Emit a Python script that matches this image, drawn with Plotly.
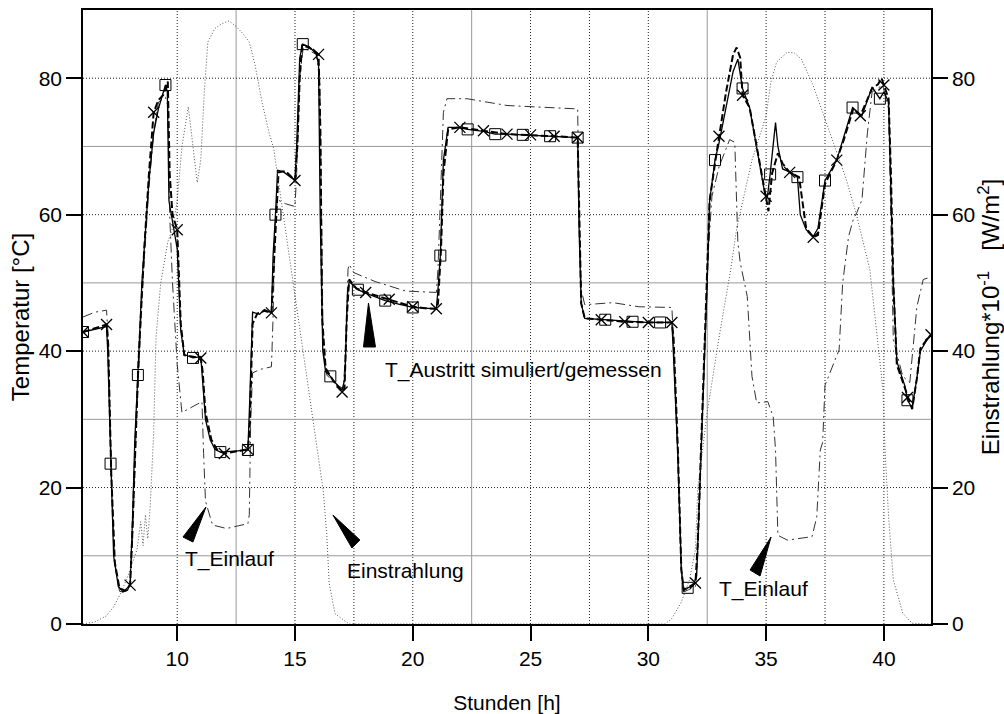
import numpy as np
import plotly.graph_objects as go

# ---------------- data ----------------
# T_Austritt gemessen (solid, square markers)
t_meas = [6.0, 6.5, 7.0, 7.05, 7.17, 7.3, 7.5, 7.7, 7.9, 8.0, 8.1, 8.2, 8.33, 8.5, 8.8, 9.0, 9.2, 9.5,
          9.58, 9.65, 9.8, 10.0, 10.15, 10.3, 10.67, 11.0, 11.07, 11.2, 11.4, 11.6, 11.83, 12.3, 12.6, 13.0,
          13.07, 13.2, 13.5, 13.7, 14.0, 14.07, 14.17, 14.26, 14.5, 14.7, 15.0, 15.07, 15.2, 15.33, 15.6,
          15.9, 16.0, 16.07, 16.18, 16.3, 16.5, 16.7, 17.0, 17.12, 17.22, 17.3, 17.67, 18.0, 18.4, 18.83,
          19.4, 20.0, 20.5, 21.0, 21.07, 21.17, 21.3, 21.5, 21.9, 22.33, 23.0, 23.5, 24.0, 24.67, 25.2,
          25.83, 26.4, 27.0, 27.06, 27.15, 27.3, 27.7, 28.17, 28.8, 29.33, 29.9, 30.5, 31.0, 31.06, 31.25,
          31.4, 31.5, 31.67, 31.9, 32.05, 32.15, 32.27, 32.5, 32.6, 32.83, 33.0, 33.3, 33.6, 33.8, 33.92,
          34.0, 34.3, 34.6, 34.95, 35.05, 35.17, 35.4, 35.5, 35.7, 36.05, 36.33, 36.45, 36.7, 37.0, 37.2,
          37.5, 38.0, 38.27, 38.67, 39.07, 39.5, 39.83, 40.0, 40.2, 40.3, 40.4, 40.55, 40.9, 41.0, 41.2,
          41.4, 41.55, 41.8, 42.0]
y_meas = [42.8, 43.2, 43.6, 40.0, 23.5, 10.0, 5.5, 4.7, 5.0, 6.0, 15.0, 27.0, 36.5, 50.0, 65.0, 72.0, 75.5, 79.0,
          78.0, 62.0, 59.0, 55.0, 43.0, 39.5, 39.0, 39.2, 36.0, 30.0, 27.0, 25.6, 25.2, 25.3, 25.4, 25.5,
          32.0, 45.7, 45.4, 46.1, 45.6, 54.0, 60.0, 66.5, 66.3, 65.8, 65.0, 70.0, 83.0, 85.0, 84.6,
          83.6, 82.0, 60.0, 40.0, 37.0, 36.3, 35.4, 34.3, 36.0, 48.0, 50.2, 49.0, 48.5, 48.0, 47.4,
          46.9, 46.4, 46.3, 46.2, 49.0, 54.0, 68.0, 72.8, 72.8, 72.5, 72.2, 71.8, 71.8, 71.7, 71.6,
          71.5, 71.4, 71.3, 58.0, 47.0, 44.8, 44.7, 44.6, 44.4, 44.3, 44.2, 44.2, 44.2, 40.0, 25.0,
          8.0, 4.9, 5.3, 5.6, 7.0, 16.0, 28.5, 50.0, 62.0, 68.0, 70.5, 76.0, 81.0, 82.8, 80.0,
          78.5, 75.7, 70.0, 63.0, 62.5, 65.9, 73.5, 70.0, 66.7, 66.2, 65.5, 60.0, 57.8, 56.8, 58.0,
          65.0, 68.0, 71.0, 75.7, 74.5, 78.7, 77.0, 78.0, 76.5, 65.0, 50.0, 38.5, 34.8, 32.8, 31.7,
          36.0, 40.0, 41.5, 42.3]
meas_marker_t = [6.0, 7.17, 8.33, 9.5, 10.67, 11.83, 13.0, 14.17, 15.33, 16.5, 17.67, 18.83, 20.0, 21.17,
                 22.33, 23.5, 24.67, 25.83, 27.0, 28.17, 29.33, 30.5, 31.67, 32.83, 34.0, 35.17, 36.33,
                 37.5, 38.67, 39.83, 41.0]

# T_Austritt simuliert (dashed, x markers every hour)
t_sim = [6.0, 6.5, 7.0, 7.07, 7.2, 7.35, 7.55, 7.8, 8.0, 8.08, 8.2, 8.35, 8.6, 8.8, 9.0, 9.2, 9.4, 9.6,
         9.68, 9.8, 10.0, 10.15, 10.3, 10.7, 11.0, 11.08, 11.2, 11.45, 11.7, 12.0, 12.5, 13.0, 13.08, 13.2,
         13.4, 13.7, 14.0, 14.07, 14.2, 14.3, 14.6, 15.0, 15.1, 15.2, 15.3, 15.6, 16.0, 16.08, 16.15, 16.3,
         16.6, 17.0, 17.1, 17.2, 17.3, 17.6, 18.0, 18.5, 19.0, 19.5, 20.0, 20.5, 21.0, 21.07, 21.2, 21.3,
         21.5, 22.0, 22.5, 23.0, 24.0, 25.0, 26.0, 27.0, 27.07, 27.15, 27.3, 28.0, 29.0, 30.0, 31.0, 31.07,
         31.25, 31.4, 31.5, 31.7, 32.0, 32.1, 32.27, 32.5, 32.6, 32.85, 33.0, 33.3, 33.6, 33.75, 33.9,
         34.0, 34.3, 34.6, 35.0, 35.1, 35.25, 35.5, 35.7, 36.0, 36.4, 36.5, 36.7, 37.0, 37.2, 37.5, 38.0,
         38.3, 38.7, 39.0, 39.5, 39.75, 39.9, 40.0, 40.2, 40.3, 40.4, 40.55, 40.9, 41.0, 41.2, 41.4, 41.55,
         41.8, 42.0]
y_sim = [42.8, 43.3, 43.9, 41.0, 22.0, 9.0, 5.2, 4.9, 5.7, 12.0, 25.0, 38.0, 55.0, 66.0, 75.0, 76.8, 77.5, 79.5,
         66.0, 60.0, 57.8, 44.0, 39.4, 39.2, 39.0, 37.0, 31.0, 27.0, 25.5, 25.0, 25.3, 25.6, 29.0, 44.0,
         45.5, 45.9, 45.6, 50.0, 60.0, 66.2, 66.4, 65.0, 70.0, 80.0, 84.8, 84.5, 83.5, 72.0, 45.0, 37.5,
         35.8, 34.0, 34.5, 45.0, 50.5, 49.2, 48.6, 48.1, 47.6, 47.0, 46.5, 46.3, 46.2, 47.0, 55.0, 66.0,
         72.5, 72.8, 72.5, 72.3, 71.8, 71.7, 71.5, 71.3, 60.0, 47.0, 44.8, 44.6, 44.3, 44.2, 44.2, 42.0,
         26.0, 8.0, 5.0, 5.4, 6.0, 12.0, 28.0, 50.0, 62.0, 68.0, 71.5, 78.0, 83.5, 84.5, 83.0,
         77.5, 75.7, 70.0, 62.7, 60.5, 66.0, 69.0, 67.5, 66.2, 65.5, 63.0, 58.0, 56.7, 57.0, 64.5, 68.0,
         71.0, 75.5, 74.5, 78.5, 79.1, 80.0, 79.0, 77.0, 66.0, 50.0, 38.0, 34.5, 33.2, 31.5, 36.0, 40.4,
         41.6, 42.4]
sim_marker_t = [float(h) for h in range(6, 43)]

# T_Einlauf (dash-dot)
t_in = [6.0, 6.5, 7.0, 7.07, 7.2, 7.35, 7.55, 7.8, 8.0, 8.1, 8.25, 8.5, 8.8, 9.0, 9.2, 9.5, 9.6, 9.68, 9.8,
        10.0, 10.2, 10.6, 11.05, 11.12, 11.2, 11.5, 12.1, 12.6, 13.0, 13.06, 13.12, 13.2, 13.5, 14.0,
        14.07, 14.15, 14.25, 14.6, 15.0, 15.07, 15.2, 15.35, 15.9, 16.05, 16.12, 16.2, 16.35, 16.7,
        17.05, 17.15, 17.25, 17.3, 17.5, 18.4, 19.7, 21.0, 21.07, 21.2, 21.3, 21.45, 22.3, 24.0, 27.0,
        27.06, 27.15, 27.3, 28.5, 29.6, 31.0, 31.06, 31.25, 31.4, 31.5, 31.7, 32.0, 32.1, 32.3, 32.5,
        32.7, 33.0, 33.45, 33.67, 33.8, 33.9, 34.2, 34.4, 34.6, 35.07, 35.3, 35.4, 35.5, 35.9, 36.95,
        37.15, 37.3, 37.4, 37.5, 37.9, 38.1, 38.25, 38.5, 38.7, 38.85, 39.07, 39.3, 39.5, 39.95, 40.2,
        40.4, 40.8, 41.1, 41.4, 41.67, 41.95]
y_in = [45.0, 45.7, 46.0, 42.0, 22.0, 9.0, 4.8, 4.6, 5.3, 12.0, 28.0, 48.0, 64.0, 72.0, 76.5, 77.2, 76.0, 60.0, 50.0,
        38.0, 31.0, 31.8, 32.6, 25.0, 18.0, 14.5, 14.0, 14.4, 14.7, 16.0, 30.0, 36.8, 37.3, 37.7,
        45.0, 58.0, 62.2, 61.6, 61.2, 66.0, 80.0, 84.5, 83.5, 80.0, 60.0, 40.0, 36.5, 35.2,
        34.5, 40.0, 52.0, 52.7, 51.5, 50.2, 48.8, 48.6, 52.0, 65.0, 75.0, 77.0, 77.0, 76.0, 75.5,
        60.0, 49.0, 46.8, 47.1, 46.5, 46.4, 42.0, 25.0, 8.0, 4.7, 5.0, 5.5, 10.0, 30.0, 52.0,
        62.7, 67.0, 71.0, 70.6, 56.0, 53.0, 48.0, 36.3, 32.4, 32.6, 30.4, 25.5, 13.0, 12.3, 12.8,
        15.7, 25.5, 26.6, 35.0, 38.5, 40.2, 50.0, 56.8, 59.3, 60.3, 62.2, 72.0, 78.0, 79.0, 75.5,
        41.7, 36.3, 35.4, 46.5, 50.5, 50.8]

# Einstrahlung (dotted, W/m^2 * 10^-1)
t_rad = [6.0, 6.5, 7.0, 7.3, 7.6, 7.9, 8.1, 8.3, 8.45, 8.55, 8.65, 8.75, 8.85, 9.0, 9.1, 9.3, 9.6, 9.8,
         10.0, 10.2, 10.47, 10.6, 10.85, 11.0, 11.15, 11.3, 11.6, 11.9, 12.2, 12.5, 12.8, 13.06, 13.3,
         13.6, 13.9, 14.1, 14.5, 15.0, 15.5, 16.0, 16.2, 16.35, 16.45, 16.7, 17.3, 30.7, 31.0, 31.4,
         31.75, 32.0, 32.1, 32.5, 33.0, 33.5, 33.75, 34.4, 35.0, 35.2, 35.45, 35.9, 36.2, 36.5, 37.0,
         37.4, 37.8, 38.4, 38.85, 39.4, 39.96, 40.05, 40.2, 40.4, 40.8, 41.2, 42.0]
y_rad = [0.0, 0.3, 1.2, 2.5, 4.5, 7.0, 9.0, 11.0, 15.0, 11.5, 16.0, 12.5, 17.0, 28.0, 42.0, 50.0, 56.0, 58.0,
         62.0, 70.0, 75.8, 72.0, 64.7, 68.0, 78.0, 85.3, 87.3, 88.0, 88.4, 87.6, 86.5, 85.3, 82.0,
         76.5, 72.0, 69.6, 60.0, 48.0, 36.0, 24.0, 19.5, 13.0, 6.0, 1.5, 0.0, 0.0, 0.8, 3.2,
         6.5, 10.9, 20.0, 31.0, 42.0, 52.0, 58.0, 68.0, 74.5, 79.4, 82.4, 83.8, 83.7, 82.8, 78.9,
         75.0, 71.0, 65.2, 59.8, 52.0, 34.4, 25.5, 15.7, 6.5, 1.6, 0.1, 0.0]

x_ticks = [10, 15, 20, 25, 30, 35, 40]
y_ticks = [0, 20, 40, 60, 80]

FONT = "Liberation Sans"

fig = go.Figure()

# grid lines (drawn below the data)
grid_dark_x = [10, 15, 17.5, 20, 25, 27.5, 30, 35, 37.5, 40]
grid_grey_x = [12.5, 22.5, 32.5]
grid_dark_y = [20, 40, 60, 80]
grid_grey_y = [10, 30, 50, 70]
for gx in grid_dark_x:
    fig.add_shape(type="line", xref="x", yref="paper", x0=gx, x1=gx, y0=0, y1=1, layer="below",
                  line=dict(color="#222", width=1, dash="1px,2px"))
for gx in grid_grey_x:
    fig.add_shape(type="line", xref="x", yref="paper", x0=gx, x1=gx, y0=0, y1=1, layer="below",
                  line=dict(color="#999", width=1))
for gy in grid_dark_y:
    fig.add_shape(type="line", xref="paper", yref="y", x0=0, x1=1, y0=gy, y1=gy, layer="below",
                  line=dict(color="#222", width=1, dash="1px,2px"))
for gy in grid_grey_y:
    fig.add_shape(type="line", xref="paper", yref="y", x0=0, x1=1, y0=gy, y1=gy, layer="below",
                  line=dict(color="#999", width=1))

# Einstrahlung
fig.add_trace(go.Scatter(x=t_rad, y=y_rad, mode="lines", yaxis="y2",
                         line=dict(color="#555", width=1, dash="1px,2px"), name="Einstrahlung"))
# T_Einlauf
fig.add_trace(go.Scatter(x=t_in, y=y_in, mode="lines",
                         line=dict(color="#333", width=1, dash="10px,4px,2px,4px"), name="T_Einlauf"))
# simuliert
fig.add_trace(go.Scatter(x=t_sim, y=y_sim, mode="lines",
                         line=dict(color="black", width=2, dash="7px,3px"), name="T_Austritt simuliert"))
# gemessen
fig.add_trace(go.Scatter(x=t_meas, y=y_meas, mode="lines",
                         line=dict(color="black", width=1.3), name="T_Austritt gemessen"))

tm = np.array(t_meas); ym = np.array(y_meas)
mask_m = np.isin(np.round(tm, 2), np.round(meas_marker_t, 2))
fig.add_trace(go.Scatter(x=tm[mask_m], y=ym[mask_m], mode="markers",
                         marker=dict(symbol="square-open", size=11, color="black", line=dict(width=1)),
                         showlegend=False))
ts = np.array(t_sim); ys = np.array(y_sim)
mask_s = np.isin(np.round(ts, 2), np.round(sim_marker_t, 2))
fig.add_trace(go.Scatter(x=ts[mask_s], y=ys[mask_s], mode="markers",
                         marker=dict(symbol="x-thin-open", size=11, color="black", line=dict(width=1.3, color="black")),
                         showlegend=False))

# annotation wedges (anchored at data point, sized in pixels)
wedges = [
    (11.22, 17.15, "M0,0 L-23,-30 L-13,-35 Z"),
    (16.61, 15.98, "M0,0 L27,-25 L19,-33 Z"),
    (18.12, 47.05, "M0,0 L-5,-44 L7,-44 Z"),
    (35.21, 12.75, "M0,0 L-21,-33 L-11,-39 Z"),
]
for wx, wy, p in wedges:
    fig.add_shape(type="path", xref="x", yref="y", xsizemode="pixel", ysizemode="pixel",
                  xanchor=wx, yanchor=wy, path=p, fillcolor="black", line=dict(color="black", width=1))

labels = [
    (10.245, 9.53, "T_Einlauf"),
    (17.12, 7.9, "Einstrahlung"),
    (18.74, 37.2, "T_Austritt simuliert/gemessen"),
    (32.91, 5.13, "T_Einlauf"),
]
for lx, ly, txt in labels:
    fig.add_annotation(x=lx, y=ly, xref="x", yref="y", text=txt, showarrow=False,
                       xanchor="left", yanchor="middle", font=dict(size=21, color="black", family=FONT))

axis_common = dict(showgrid=False, zeroline=False, ticks="outside", ticklen=15, tickwidth=1.5,
                   tickcolor="black", showline=True, linecolor="black", linewidth=1.5, automargin=False,
                   tickfont=dict(size=21, color="black", family=FONT))

fig.update_layout(
    width=1004, height=714,
    margin=dict(l=83, r=73, t=10, b=90),
    paper_bgcolor="white", plot_bgcolor="white",
    showlegend=False,
    font=dict(family=FONT, color="black"),
    xaxis=dict(range=[6, 42], tickvals=x_ticks, mirror=True,
               title=dict(text="Stunden [h]", font=dict(size=21, family=FONT), standoff=26),
               **axis_common),
    yaxis=dict(range=[0, 90], tickvals=y_ticks,
               title=dict(text="Temperatur [°C]", font=dict(size=24, family=FONT), standoff=2),
               **axis_common),
    yaxis2=dict(range=[0, 90], tickvals=y_ticks, overlaying="y", side="right",
                title=dict(text="Einstrahlung*10<sup>-1</sup>\u00a0\u00a0\u00a0[W/m<sup>2</sup>]",
                           font=dict(size=24, family=FONT), standoff=0),
                **axis_common),
)

fig.write_html("out.html", config={"displayModeBar": False},
               post_script="document.body.style.margin='0px';document.body.style.overflow='hidden';")
